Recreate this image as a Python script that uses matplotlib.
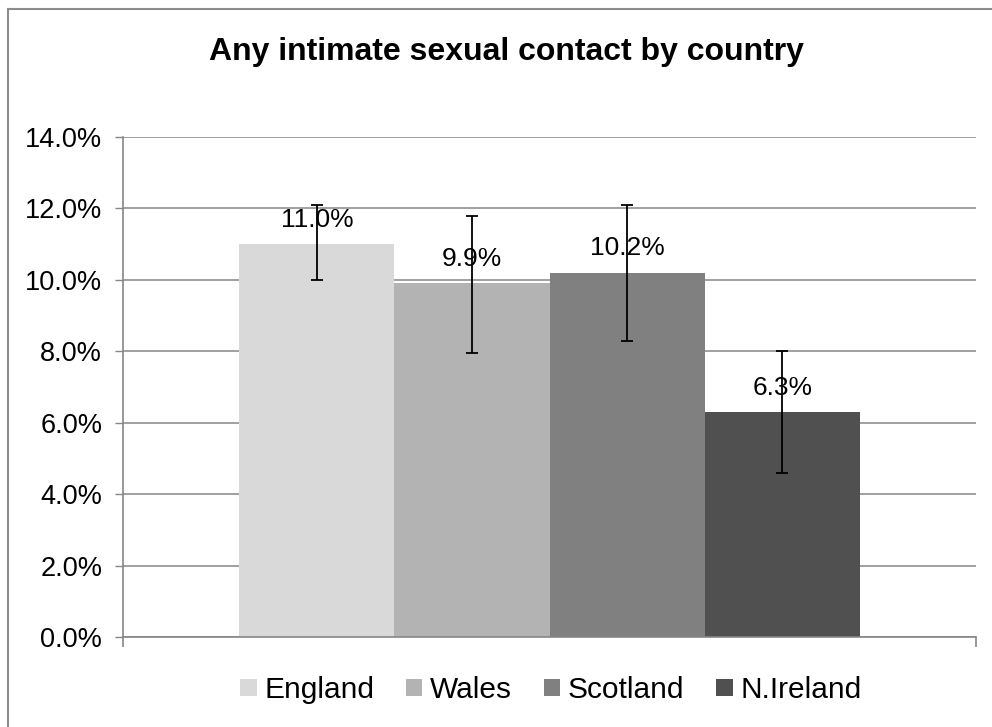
import matplotlib
matplotlib.use("Agg")
import matplotlib.pyplot as plt
from matplotlib.lines import Line2D
from matplotlib.patches import Patch
from matplotlib.ticker import FuncFormatter, MultipleLocator

plt.rcParams['font.family'] = ['Liberation Sans', 'DejaVu Sans']

# Data
countries = ["England", "Wales", "Scotland", "N.Ireland"]
values = [11.0, 9.9, 10.2, 6.3]          # percent
err_low = [10.0, 7.95, 8.3, 4.6]         # lower bound of error bar
err_high = [12.1, 11.8, 12.1, 8.0]       # upper bound of error bar
colors = ["#d9d9d9", "#b3b3b3", "#808080", "#505050"]
title = "Any intimate sexual contact by country"

fig = plt.figure(figsize=(9.92, 7.27), dpi=100)
ax = fig.add_axes([123 / 992, 1 - 637 / 727, (976 - 123) / 992, 500 / 727])

xs = list(range(len(countries)))
ax.bar(xs, values, width=1.0, color=colors, zorder=2)

yerr = [[v - lo for v, lo in zip(values, err_low)],
        [hi - v for v, hi in zip(values, err_high)]]
ax.errorbar(xs, values, yerr=yerr, fmt="none", ecolor="black",
            elinewidth=1.3, capsize=4.3, capthick=1.3, zorder=4)

for x, v in zip(xs, values):
    ax.annotate(f"{v:.1f}%", xy=(x, v), xytext=(0, 12.5),
                textcoords="offset points", ha="center", va="baseline",
                fontsize=19, zorder=5)

ax.set_xlim(-1.25, 4.25)
ax.set_ylim(0, 14)
ax.yaxis.set_major_locator(MultipleLocator(2))
ax.yaxis.set_major_formatter(FuncFormatter(lambda v, p: f"{v:.1f}%"))
ax.set_xticks([-1.25, 4.25])
ax.set_xticklabels([])
ax.tick_params(axis="y", labelsize=19.5, length=6, width=1, color="#868686", pad=9)
ax.tick_params(axis="x", length=7, width=1.2, color="#868686")
ax.grid(axis="y", color="#868686", linewidth=1.1, zorder=0)
ax.set_axisbelow(True)
for side in ("top", "right"):
    ax.spines[side].set_visible(False)
for side in ("left", "bottom"):
    ax.spines[side].set_color("#868686")
    ax.spines[side].set_linewidth(1.2)

fig.text(506 / 992, 1 - 52 / 727, title, ha="center", va="center",
         fontsize=23, fontweight="bold")

handles = [Patch(facecolor=c, edgecolor="none") for c in colors]
fig.legend(handles, countries, loc="center", ncol=4, frameon=False,
           bbox_to_anchor=(551 / 992, 1 - 690 / 727), fontsize=21.5,
           handlelength=0.54, handleheight=0.54, handletextpad=0.26,
           columnspacing=1.07)

# Outer chart border (left and top edges)
fig.add_artist(Line2D([7.5 / 992, 7.5 / 992], [0, 1 - 9 / 727],
                      transform=fig.transFigure, color="#8c8c8c", linewidth=1.5))
fig.add_artist(Line2D([7.5 / 992, 1], [1 - 9 / 727, 1 - 9 / 727],
                      transform=fig.transFigure, color="#8c8c8c", linewidth=1.5))

fig.savefig("out.png", dpi=100, facecolor="white")
